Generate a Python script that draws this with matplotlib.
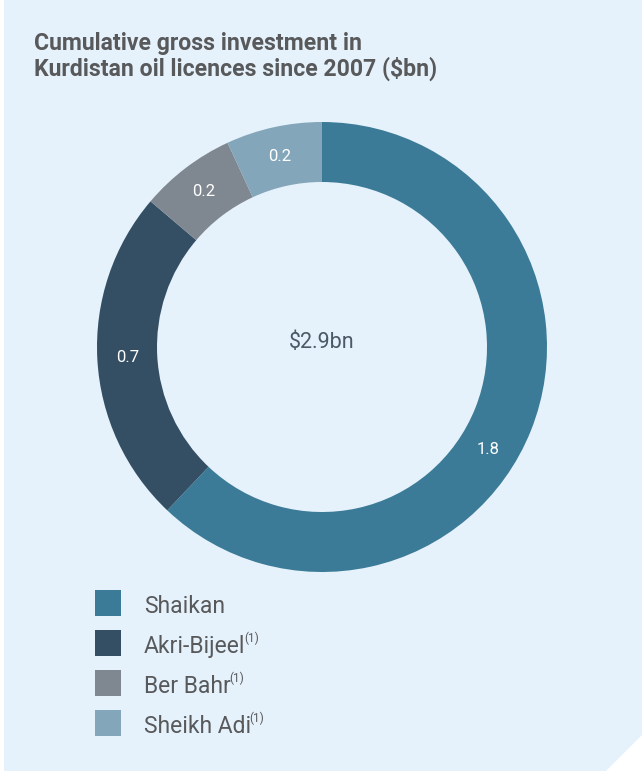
import numpy as np
import matplotlib
matplotlib.use("Agg")
import matplotlib.pyplot as plt
from matplotlib.patches import Polygon, Rectangle

plt.rcParams['font.family'] = ['Roboto', 'DejaVu Sans']

# Data
licences = ["Shaikan", "Akri-Bijeel", "Ber Bahr", "Sheikh Adi"]
superscripts = ["", "(1)", "(1)", "(1)"]
investment = [1.8, 0.7, 0.2, 0.2]
value_labels = ["1.8", "0.7", "0.2", "0.2"]
total_label = "$2.9bn"
title = "Cumulative gross investment in\nKurdistan oil licences since 2007 ($bn)"

colors = ["#3c7b98", "#344f64", "#7f8790", "#84a6ba"]
bg = "#e6f2fb"
text_grey = "#58595b"

W, H = 642, 771
fig = plt.figure(figsize=(W / 100, H / 100), dpi=100)
fig.patch.set_facecolor("white")
renderer = fig.canvas.get_renderer()

# Panel background with a clipped bottom-right corner
cut = 36
panel = Polygon([(4 / W, 1), (1, 1), (1, cut / H), ((W - cut) / W, 0), (4 / W, 0)],
                closed=True, transform=fig.transFigure, facecolor=bg,
                edgecolor="none", zorder=-5)
fig.patches.append(panel)

# Title
fig.text(34 / W, 1 - 32 / H, title, ha="left", va="top", fontsize=16.6,
         fontweight="bold", color=text_grey, linespacing=1.08)

# Donut
cx, cy, r_px = 322, 347, 225
span = 480
ax = fig.add_axes([(cx - span / 2) / W, (H - cy - span / 2) / H, span / W, span / H])
width = 60 / r_px
wedges, _ = ax.pie(investment, colors=colors, startangle=90, counterclock=False,
                   radius=1.0, wedgeprops=dict(width=width, edgecolor="none"))
ax.set_xlim(-span / 2 / r_px, span / 2 / r_px)
ax.set_ylim(-span / 2 / r_px, span / 2 / r_px)
ax.set_aspect("equal")
ax.axis("off")

# Value labels inside the ring
total = sum(investment)
label_r = 1 - width / 2
shift = [10.0, 0.0, 0.0, 0.0]  # degrees of clockwise nudge per label
start = 0.0
for v, lab, s in zip(investment, value_labels, shift):
    mid = start + v / total * 360 / 2 + s
    ang = np.deg2rad(90 - mid)
    ax.text(label_r * np.cos(ang), label_r * np.sin(ang), lab, ha="center",
            va="center", fontsize=12, color="white")
    start += v / total * 360

ax.text(0, 0.02, total_label, ha="center", va="center", fontsize=15.5,
        color="#4a5a67")

# Legend
for i, (name, sup, c) in enumerate(zip(licences, superscripts, colors)):
    yc = 603 + 40 * i
    fig.patches.append(Rectangle((95 / W, 1 - (yc + 13) / H), 26 / W, 26 / H,
                                 transform=fig.transFigure, facecolor=c,
                                 edgecolor="none"))
    t = fig.text(144 / W, 1 - (yc + 10) / H, name, ha="left", va="baseline",
                 fontsize=16.5, color=text_grey)
    if sup:
        bb = t.get_window_extent(renderer)
        fig.text((bb.x1 - 1.5) / W, 1 - (yc - 1) / H, sup, ha="left",
                 va="baseline", fontsize=8.5, color=text_grey)

fig.savefig("out.png", dpi=100, facecolor=fig.get_facecolor())
